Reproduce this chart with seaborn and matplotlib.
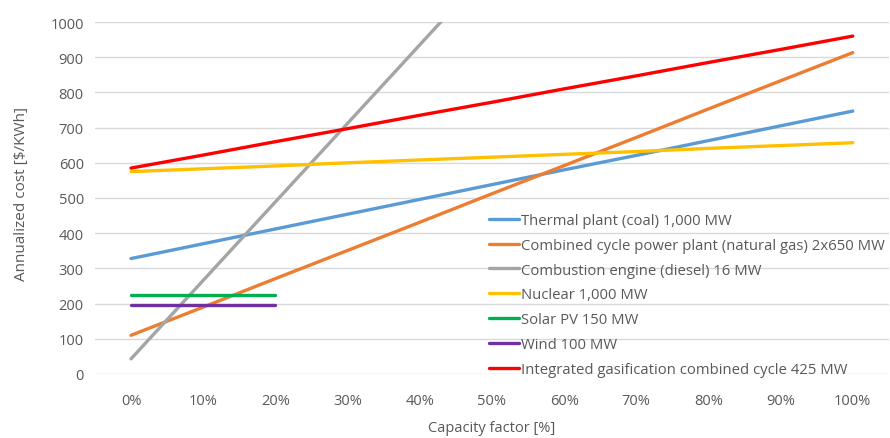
import numpy as np
import pandas as pd
import matplotlib
matplotlib.use("Agg")
import matplotlib.pyplot as plt
import seaborn as sns

# Capacity factor categories (%)
capacity_factor = [0, 10, 20, 30, 40, 50, 60, 70, 80, 90, 100]
tick_labels = ["0%", "10%", "20%", "30%", "40%", "50%", "60%", "70%", "80%", "90%", "100%"]

# Annualized cost [$/kWh] per technology
thermal_coal = [328, 370, 412, 454, 496, 538, 580, 621, 663, 705, 747]
combined_cycle_gas = [110, 190, 271, 351, 431, 512, 592, 672, 753, 833, 913]
combustion_diesel = [43, 266, 489, 712, 935, 1158, 1381, 1604, 1827, 2050, 2273]
nuclear = [575, 583, 591, 600, 608, 616, 624, 632, 641, 649, 657]
solar_pv = [225, 225, 225]
wind = [196, 196, 196]
igcc = [585, 622, 660, 697, 735, 772, 810, 847, 885, 922, 960]

series = [
    ("Thermal plant (coal) 1,000 MW", thermal_coal, "#5B9BD5"),
    ("Combined cycle power plant (natural gas) 2x650 MW", combined_cycle_gas, "#ED7D31"),
    ("Combustion engine (diesel) 16 MW", combustion_diesel, "#A5A5A5"),
    ("Nuclear 1,000 MW", nuclear, "#FFC000"),
    ("Solar PV 150 MW", solar_pv, "#00B050"),
    ("Wind 100 MW", wind, "#7030A0"),
    ("Integrated gasification combined cycle 425 MW", igcc, "#FF0000"),
]

rows = []
for name, vals, _ in series:
    for cf, v in zip(capacity_factor, vals):
        rows.append({"Capacity factor": cf, "Cost": v, "Plant": name})
df = pd.DataFrame(rows)
palette = {name: color for name, _, color in series}
order = [name for name, _, _ in series]

sns.set_theme(style="white")
plt.rcParams["font.family"] = ["Open Sans", "DejaVu Sans"]

text_color = "#595959"
fig = plt.figure(figsize=(8.9, 4.39), dpi=100)
ax = fig.add_axes([0.1067, 0.1458, 0.892, 0.8018])

sns.lineplot(data=df, x="Capacity factor", y="Cost", hue="Plant", hue_order=order,
             palette=palette, linewidth=2.4, ax=ax, estimator=None, sort=False,
             solid_capstyle="round")

ax.set_xlim(-5, 105)
ax.set_ylim(0, 1000)
ax.set_xticks(capacity_factor)
ax.set_xticklabels(tick_labels)
ax.set_yticks(range(0, 1001, 100))
ax.grid(axis="y", color="#D9D9D9", linewidth=1)
ax.set_axisbelow(True)
for s in ax.spines.values():
    s.set_visible(False)
ax.tick_params(axis="both", length=0, labelsize=10.5, colors=text_color)
ax.tick_params(axis="x", pad=14)
ax.tick_params(axis="y", pad=8)

ax.set_xlabel("Capacity factor [%]", fontsize=10.5, color=text_color, labelpad=8)
ax.set_ylabel("Annualized cost [$/KWh]", fontsize=11, color=text_color)
ax.yaxis.set_label_coords(-0.083, 0.515)

leg = ax.legend(loc="lower left", bbox_to_anchor=(0.489, -0.025), frameon=False,
                fontsize=10.7, handlelength=2.0, handletextpad=0.12,
                labelspacing=0.66, borderaxespad=0)
for t in leg.get_texts():
    t.set_color(text_color)
for h in leg.get_lines():
    h.set_linewidth(2.4)

fig.savefig("out.png", dpi=100)
